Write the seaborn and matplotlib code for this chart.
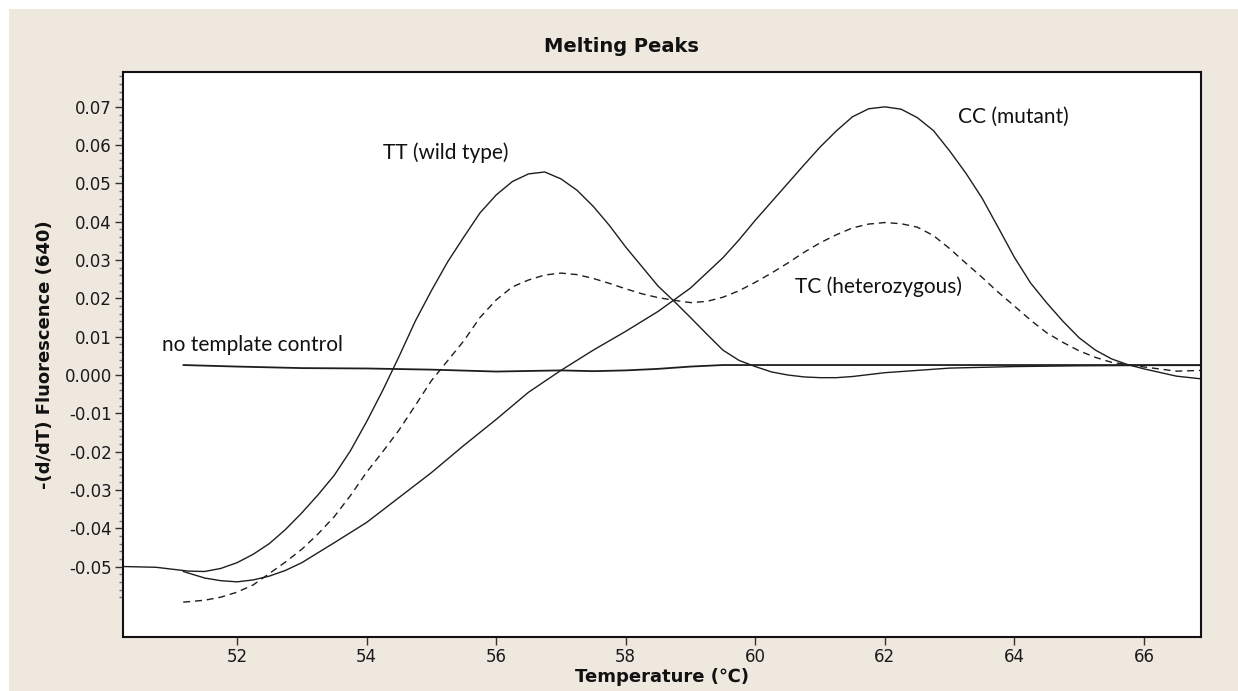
import numpy as np
import pandas as pd
import matplotlib
matplotlib.use("Agg")
import matplotlib.pyplot as plt
from matplotlib.patches import Rectangle
from matplotlib.ticker import FixedLocator
import seaborn as sns

# ---------------- data ----------------
tt_temp = [50.24, 50.75, 51.25, 51.5, 51.75, 52.0, 52.25, 52.5, 52.75, 53.0, 53.25,
           53.5, 53.75, 54.0, 54.25, 54.5, 54.75, 55.0, 55.25, 55.5, 55.75, 56.0,
           56.25, 56.5, 56.75, 57.0, 57.25, 57.5, 57.75, 58.0, 58.25, 58.5, 58.75,
           59.0, 59.25, 59.5, 59.75, 60.0, 60.25, 60.5, 60.75, 61.0, 61.25, 61.5,
           62.0, 62.5, 63.0, 64.0, 65.0, 66.0, 66.88]
tt_val = [-0.0500, -0.0502, -0.0512, -0.0513, -0.0505, -0.0490, -0.0468, -0.0440,
          -0.0403, -0.0360, -0.0313, -0.0262, -0.0198, -0.0122, -0.0040, 0.0048,
          0.0140, 0.0220, 0.0295, 0.0360, 0.0423, 0.0470, 0.0505, 0.0525, 0.0530,
          0.0512, 0.0482, 0.0440, 0.0390, 0.0334, 0.0283, 0.0232, 0.0192, 0.0150,
          0.0107, 0.0065, 0.0038, 0.0022, 0.0008, 0.0000, -0.0005, -0.0007, -0.0007,
          -0.0004, 0.0006, 0.0012, 0.0018, 0.0022, 0.0024, 0.0025, 0.0025]

cc_temp = [51.17, 51.5, 51.75, 52.0, 52.25, 52.5, 52.75, 53.0, 53.5, 54.0, 54.5,
           55.0, 55.5, 56.0, 56.5, 57.0, 57.5, 58.0, 58.5, 59.0, 59.5, 59.75, 60.0,
           60.25, 60.5, 60.75, 61.0, 61.25, 61.5, 61.75, 62.0, 62.25, 62.5, 62.75,
           63.0, 63.25, 63.5, 63.75, 64.0, 64.25, 64.5, 64.75, 65.0, 65.25, 65.5,
           65.75, 66.0, 66.5, 66.88]
cc_val = [-0.0513, -0.0530, -0.0537, -0.0540, -0.0535, -0.0525, -0.0510, -0.0490,
          -0.0438, -0.0385, -0.0320, -0.0255, -0.0184, -0.0116, -0.0045, 0.0012,
          0.0065, 0.0114, 0.0166, 0.0227, 0.0306, 0.0353, 0.0404, 0.0452, 0.0500,
          0.0548, 0.0595, 0.0637, 0.0674, 0.0695, 0.0700, 0.0694, 0.0672, 0.0638,
          0.0585, 0.0527, 0.0462, 0.0385, 0.0307, 0.0240, 0.0188, 0.0140, 0.0097,
          0.0065, 0.0042, 0.0027, 0.0016, -0.0003, -0.0010]

tc_temp = [51.17, 51.5, 51.75, 52.0, 52.25, 52.5, 52.75, 53.0, 53.25, 53.5, 53.75,
           54.0, 54.25, 54.5, 54.75, 55.0, 55.25, 55.5, 55.75, 56.0, 56.25, 56.5,
           56.75, 57.0, 57.25, 57.5, 57.75, 58.0, 58.25, 58.5, 58.75, 59.0, 59.25,
           59.5, 59.75, 60.0, 60.25, 60.5, 60.75, 61.0, 61.25, 61.5, 61.75, 62.0,
           62.25, 62.5, 62.75, 63.0, 63.25, 63.5, 63.75, 64.0, 64.25, 64.5, 64.75,
           65.0, 65.25, 65.5, 66.0, 66.5, 66.88]
tc_val = [-0.0593, -0.0588, -0.0580, -0.0567, -0.0548, -0.0518, -0.0488, -0.0455,
          -0.0415, -0.0370, -0.0315, -0.0254, -0.0200, -0.0144, -0.0080, -0.0015,
          0.0037, 0.0089, 0.0150, 0.0196, 0.0230, 0.0248, 0.0261, 0.0266, 0.0262,
          0.0252, 0.0239, 0.0225, 0.0212, 0.0202, 0.0195, 0.0189, 0.0192, 0.0203,
          0.0220, 0.0242, 0.0266, 0.0292, 0.0320, 0.0345, 0.0366, 0.0384, 0.0394,
          0.0398, 0.0395, 0.0386, 0.0364, 0.0330, 0.0292, 0.0255, 0.0216, 0.0180,
          0.0143, 0.0110, 0.0085, 0.0063, 0.0046, 0.0033, 0.0021, 0.0010, 0.0012]

ntc_temp = [51.17, 52.0, 53.0, 54.0, 55.0, 56.0, 57.0, 57.5, 58.0, 58.5, 59.0, 59.5,
            60.5, 62.0, 64.0, 66.0, 66.88]
ntc_val = [0.0026, 0.0022, 0.0018, 0.0017, 0.0014, 0.0009, 0.0012, 0.0010, 0.0012,
           0.0016, 0.0022, 0.0026, 0.0026, 0.0026, 0.0026, 0.0026, 0.0026]

x_ticks = [52, 54, 56, 58, 60, 62, 64, 66]
y_ticks = [-0.05, -0.04, -0.03, -0.02, -0.01, 0.0, 0.01, 0.02, 0.03, 0.04, 0.05, 0.06, 0.07]
y_tick_labels = ["-0.05", "-0.04", "-0.03", "-0.02", "-0.01", "0.000",
                 "0.01", "0.02", "0.03", "0.04", "0.05", "0.06", "0.07"]

labels = ["TT (wild type)", "CC (mutant)", "TC (heterozygous)", "no template control"]
label_x = [54.25, 63.13, 60.61, 50.84]
label_y = [0.0580, 0.0674, 0.0230, 0.0078]

# ---------------- figure ----------------
sns.set_style("white")
plt.rcParams["font.family"] = ["DejaVu Sans"]

fig = plt.figure(figsize=(12.38, 6.91), dpi=100)
fig.patch.set_facecolor("white")
fig.add_artist(Rectangle((9 / 1238, 0), 1 - 9 / 1238, 1 - 9 / 691,
                         transform=fig.transFigure, facecolor="#EFE8DF",
                         edgecolor="none", zorder=-10))

ax = fig.add_axes([123 / 1238, 1 - 637 / 691, (1201 - 123) / 1238, (637 - 72) / 691])
ax.set_facecolor("white")

lc = "#1e1e1e"
sns.lineplot(x=tt_temp, y=tt_val, ax=ax, color=lc, linewidth=1.0, sort=False)
sns.lineplot(x=cc_temp, y=cc_val, ax=ax, color=lc, linewidth=1.0, sort=False)
sns.lineplot(x=tc_temp, y=tc_val, ax=ax, color=lc, linewidth=1.0, sort=False,
             linestyle=(0, (5, 3.5)))
sns.lineplot(x=ntc_temp, y=ntc_val, ax=ax, color=lc, linewidth=1.3, sort=False)

ax.set_xlim(50.24, 66.88)
ax.set_ylim(-0.0684, 0.0791)

ax.set_xticks(x_ticks)
ax.set_xticklabels([str(t) for t in x_ticks])
ax.set_yticks(y_ticks)
ax.set_yticklabels(y_tick_labels)
minor = [round(v, 3) for v in np.arange(-0.058, 0.0781, 0.002)
         if abs(round(v * 100) - v * 100) > 1e-6]
ax.yaxis.set_minor_locator(FixedLocator(minor))

ax.tick_params(axis="both", which="major", direction="out", length=6, width=1,
               color="#333333", labelsize=12, labelcolor="#1a1a1a", pad=2)
ax.tick_params(axis="y", which="minor", direction="out", length=3, width=1,
               color="#777777", left=True)
ax.tick_params(axis="x", which="both", bottom=True)
ax.tick_params(axis="y", which="major", left=True)

for s in ax.spines.values():
    s.set_color("#111111")
    s.set_linewidth(1.5)

ax.set_xlabel("Temperature (\u2103)", fontsize=13, fontweight="bold",
              family=["DejaVu Sans"], labelpad=1, color="#111111")
ax.set_ylabel("-(d/dT) Fluorescence (640)", fontsize=13, fontweight="bold",
              labelpad=8, color="#111111")

fig.text(621 / 1238, 1 - 47 / 691, "Melting Peaks", ha="center", va="center",
         fontsize=14, fontweight="heavy", color="#111111")

for t, xx, yy in zip(labels, label_x, label_y):
    ax.text(xx, yy, t, ha="left", va="center", fontsize=15,
            family=["Lato", "DejaVu Sans"], color="#111111")

fig.savefig("out.png", dpi=100, facecolor=fig.get_facecolor())
